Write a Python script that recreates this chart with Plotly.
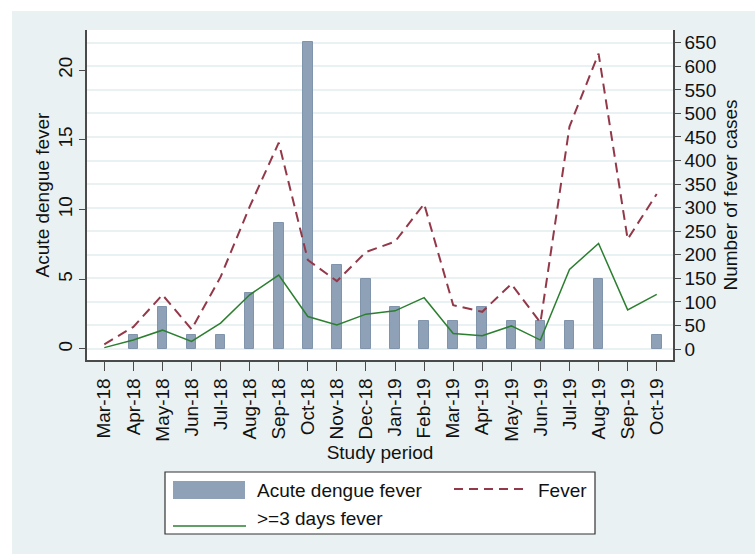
import plotly.graph_objects as go

# ---- data ----
months = ["Mar-18", "Apr-18", "May-18", "Jun-18", "Jul-18", "Aug-18", "Sep-18", "Oct-18",
          "Nov-18", "Dec-18", "Jan-19", "Feb-19", "Mar-19", "Apr-19", "May-19", "Jun-19",
          "Jul-19", "Aug-19", "Sep-19", "Oct-19"]
acute_dengue = [0, 1, 3, 1, 1, 4, 9, 22, 6, 5, 3, 2, 2, 3, 2, 2, 2, 5, 0, 1]
fever = [10, 47, 115, 42, 153, 302, 438, 189, 144, 206, 228, 308, 93, 79, 138, 56, 472, 627, 233, 329]
fever_3days = [3, 19, 40, 16, 55, 115, 157, 69, 51, 74, 81, 109, 33, 28, 49, 19, 169, 224, 83, 116]
left_ticks = [0, 5, 10, 15, 20]
right_ticks = list(range(0, 651, 50))

# ---- style ----
W, H = 755, 554
ML, MR, MT, MB = 87, 82, 30, 194
PW, PH = W - ML - MR, H - MT - MB
BG = "#EAF1F3"
BAR = "#8FA1B6"
BAR_EDGE = "#8094AB"
MAROON = "#933849"
GREEN = "#2C7F30"
AXIS = "#4a4a4a"
TXT = "#111111"
FONT = "Liberation Sans, Arial, sans-serif"
FS = 19


def px(x):
    return (x - ML) / PW


def py(y):
    return (MT + PH - y) / PH


edge_colors = [BAR_EDGE if v > 0 else "rgba(0,0,0,0)" for v in acute_dengue]

fig = go.Figure()
fig.add_trace(go.Bar(x=months, y=acute_dengue, name="Acute dengue fever", yaxis="y",
                     width=0.33, marker=dict(color=BAR, line=dict(color=edge_colors, width=1)),
                     showlegend=False))
fig.add_trace(go.Scatter(x=months, y=fever, name="Fever", yaxis="y2", mode="lines",
                         line=dict(color=MAROON, width=2, dash="10px,6px"), showlegend=False))
fig.add_trace(go.Scatter(x=months, y=fever_3days, name=">=3 days fever", yaxis="y2", mode="lines",
                         line=dict(color=GREEN, width=1.5), showlegend=False))

shapes = [
    # white outer strips (top / left)
    dict(type="rect", xref="paper", yref="paper", x0=px(0), x1=px(W), y0=py(0), y1=py(11),
         fillcolor="white", line=dict(width=0), layer="below"),
    dict(type="rect", xref="paper", yref="paper", x0=px(0), x1=px(12), y0=py(0), y1=py(H),
         fillcolor="white", line=dict(width=0), layer="below"),
    # legend box
    dict(type="rect", xref="paper", yref="paper", x0=px(165), x1=px(595), y0=py(472), y1=py(534),
         fillcolor="white", line=dict(color="#333333", width=1.2), layer="above"),
    # legend swatches
    dict(type="rect", xref="paper", yref="paper", x0=px(173), x1=px(245), y0=py(481), y1=py(499),
         fillcolor=BAR, line=dict(width=0), layer="above"),
    dict(type="line", xref="paper", yref="paper", x0=px(454), x1=px(525), y0=py(489), y1=py(489),
         line=dict(color=MAROON, width=2, dash="9px,6px"), layer="above"),
    dict(type="line", xref="paper", yref="paper", x0=px(173), x1=px(246), y0=py(526), y1=py(526),
         line=dict(color=GREEN, width=1.5), layer="above"),
]

annotations = [
    dict(text="Acute dengue fever", xref="paper", yref="paper", x=px(255), y=py(490),
         xanchor="left", yanchor="middle", showarrow=False, font=dict(size=FS, color=TXT, family=FONT)),
    dict(text="Fever", xref="paper", yref="paper", x=px(536), y=py(490),
         xanchor="left", yanchor="middle", showarrow=False, font=dict(size=FS, color=TXT, family=FONT)),
    dict(text=">=3 days fever", xref="paper", yref="paper", x=px(255), y=py(518),
         xanchor="left", yanchor="middle", showarrow=False, font=dict(size=FS, color=TXT, family=FONT)),
]

fig.update_layout(
    width=W, height=H,
    margin=dict(l=ML, r=MR, t=MT, b=MB, pad=0),
    paper_bgcolor=BG, plot_bgcolor="white",
    font=dict(family=FONT, size=FS, color=TXT),
    showlegend=False,
    bargap=0,
    shapes=shapes,
    annotations=annotations,
    xaxis=dict(type="category", categoryorder="array", categoryarray=months,
               range=[-0.595, 19.56], showgrid=False, zeroline=False,
               showline=True, linecolor=AXIS, linewidth=1.5,
               ticks="outside", ticklen=9, tickwidth=1.2, tickcolor=AXIS,
               tickangle=-90, tickfont=dict(size=FS, color=TXT),
               title=dict(text="Study period", font=dict(size=FS, color=TXT), standoff=5)),
    yaxis=dict(range=[-0.79, 22.87], tickvals=left_ticks, showgrid=False, zeroline=False,
               showline=True, linecolor=AXIS, linewidth=1.5,
               ticks="outside", ticklen=6, tickwidth=1.2, tickcolor=AXIS,
               tickangle=-90, tickfont=dict(size=FS, color=TXT),
               title=dict(text="Acute dengue fever", font=dict(size=FS, color=TXT), standoff=0)),
    yaxis2=dict(overlaying="y", side="right", range=[-23.3, 677], tickvals=right_ticks,
                showgrid=True, gridcolor=BG, gridwidth=1.5, zeroline=False,
                showline=True, linecolor=AXIS, linewidth=1.5,
                ticks="outside", ticklen=6, tickwidth=1.2, tickcolor=AXIS,
                tickfont=dict(size=FS, color=TXT),
                title=dict(text="Number of fever cases", font=dict(size=FS, color=TXT), standoff=8)),
)

fig.write_html("out.html")
